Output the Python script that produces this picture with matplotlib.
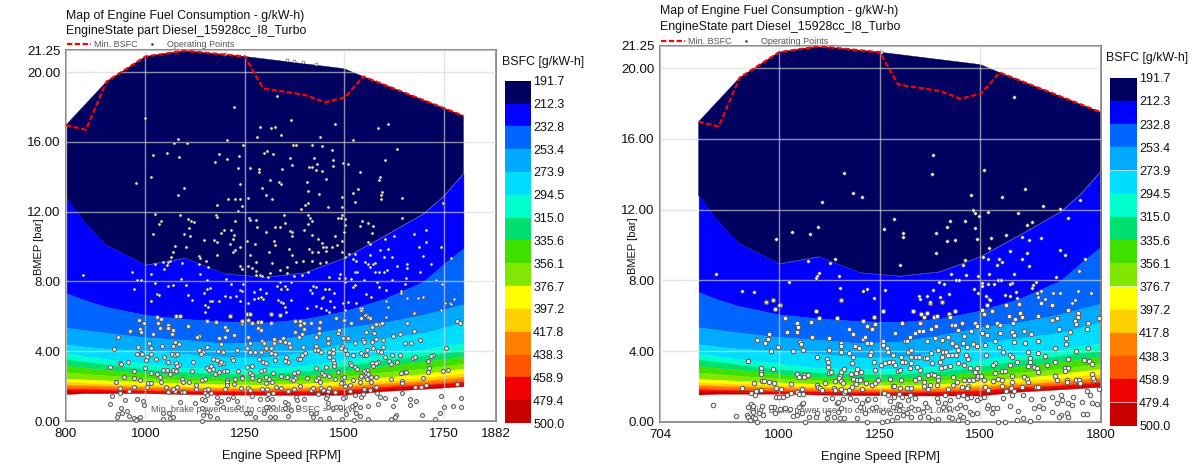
import numpy as np
import matplotlib
matplotlib.use('Agg')
import matplotlib.pyplot as plt

plt.rcParams['font.family'] = ['Liberation Sans', 'DejaVu Sans']

W, H = 1199, 466

# top edge of the map and the min BSFC line
env_rpm = [800, 902, 1000, 1099, 1250, 1500, 1548, 1800]
env_bmep = [16.97, 19.46, 20.9, 21.23, 20.9, 20.2, 19.75, 17.5]
min_rpm = [800, 850, 902, 1000, 1099, 1250, 1296, 1401, 1451, 1502, 1548, 1800]
min_bmep = [16.97, 16.7, 19.46, 20.9, 21.23, 20.9, 19.07, 18.7, 18.27, 18.56, 19.75, 17.5]

# lower edges of the colour bands, first one is the edge of the navy band
band_rpm = [800, 850, 900, 1000, 1100, 1200, 1300, 1400, 1500, 1600, 1700, 1750, 1800]
edge_212 = [12.8, 11.3, 10.1, 8.95, 9.35, 8.45, 8.25, 8.5, 9.35, 10.6, 11.9, 12.9, 14.2]
edge_233 = [7.34, 6.9, 6.55, 6.08, 5.85, 5.7, 5.65, 5.85, 6.3, 7.0, 8.0, 9.0, 9.9]
edge_253 = [5.35, 5.2, 5.05, 4.8, 4.65, 4.45, 4.55, 4.9, 5.35, 5.65, 6.1, 6.4, 6.7]
edge_274 = [4.4, 4.25, 4.15, 4.03, 3.85, 3.65, 3.65, 3.95, 4.45, 4.75, 5.05, 5.35, 5.65]
edge_295 = [3.9, 3.7, 3.55, 3.3, 3.05, 3.0, 3.0, 3.15, 3.5, 3.8, 4.1, 4.3, 4.45]
edge_315 = [3.54, 3.4, 3.25, 2.97, 2.8, 2.7, 2.72, 2.85, 3.15, 3.5, 3.75, 3.9, 4.05]
edge_336 = [3.18, 3.05, 2.95, 2.7, 2.55, 2.45, 2.45, 2.58, 2.85, 3.15, 3.4, 3.55, 3.68]
edge_356 = [2.8, 2.7, 2.62, 2.46, 2.35, 2.28, 2.25, 2.36, 2.55, 2.8, 3.0, 3.15, 3.28]
edge_377 = [2.43, 2.38, 2.33, 2.24, 2.15, 2.1, 2.08, 2.15, 2.3, 2.5, 2.7, 2.87, 3.0]
edge_397 = [2.24, 2.2, 2.15, 2.07, 2.0, 1.96, 1.95, 2.0, 2.12, 2.3, 2.48, 2.6, 2.72]
edge_418 = [2.09, 2.05, 2.02, 1.96, 1.9, 1.87, 1.86, 1.9, 2.0, 2.15, 2.3, 2.42, 2.52]
edge_438 = [1.96, 1.93, 1.9, 1.84, 1.8, 1.78, 1.77, 1.8, 1.88, 2.05, 2.17, 2.27, 2.37]
edge_459 = [1.84, 1.82, 1.8, 1.75, 1.72, 1.7, 1.69, 1.71, 1.78, 1.95, 2.07, 2.16, 2.25]
edge_479 = [1.75, 1.73, 1.71, 1.65, 1.63, 1.62, 1.6, 1.62, 1.65, 1.85, 1.97, 2.05, 2.13]
edge_500 = [1.55, 1.6, 1.6, 1.6, 1.55, 1.52, 1.5, 1.5, 1.5, 1.72, 1.85, 1.92, 2.0]

band_colors = ['#000060', '#0000ff', '#0066ff', '#00aaff', '#00ddff', '#00ffcc', '#00e070', '#40e000',
               '#80e800', '#ffff00', '#ffd000', '#ff8000', '#ff5500', '#f00000', '#c80000']
bar_labels = ['191.7', '212.3', '232.8', '253.4', '273.9', '294.5', '315.0', '335.6',
              '356.1', '376.7', '397.2', '417.8', '438.3', '458.9', '479.4', '500.0']

# operating points, (rpm, bmep). high = small dots, low = bigger circles
left_high = [(976,13.67),(1015,14.0),(1020,15.27),(1055,15.39),(1082,16.17),(1072,15.92),(1105,15.92),(1084,15.16),(1206,16.1),(1281,16.27),
(1342,16.4),(1439,16.27),(1522,16.14),(1184,15.29),(1175,14.87),(1206,15.0),(1236,15.2),(1234,14.53),(1246,15.83),(1299,15.35),(1306,15.47),
(1321,15.29),(1371,15.85),(1380,15.81),(1418,15.85),(1443,15.77),(1470,15.54),(1633,15.58),(1363,15.06),(1369,14.68),(1423,15.08),(1431,14.74),
(1411,14.57),(1418,14.57),(1430,14.4),(1443,14.36),(1472,14.95),(1472,14.6),(1496,14.8),(1510,14.76),(1603,14.95),(1541,14.3),(1264,14.53),
(1285,14.43),(1285,14.26),(1344,14.45),(1313,13.82),(1335,13.69),(1342,13.61),(1407,13.71),(1454,13.9),(1589,14.01),(1588,13.82),(1237,13.61),
(1292,13.34),(1097,13.34),(1082,12.96),(1304,12.96),(1318,12.71),(1208,12.71),(1225,12.71),(1237,12.73),(1257,12.79),(1408,13.21),(1436,13.0),
(1495,12.83),(1521,13.06),(1536,13.3),(1526,12.56),(1596,13.15),(1593,12.94),(1593,12.73),(1645,12.77),(1179,12.37),(1244,12.31),(1234,12.02),
(1409,12.48),(1401,12.39),(1392,12.16),(1460,12.25),(1495,12.29),(1024,11.87),(1087,11.83),(1038,11.47),(1035,11.28),(1018,10.74),(1106,11.57),
(1114,11.45),(1123,11.41),(1110,11.09),(1097,10.7),(1112,10.63),(1177,11.83),(1181,11.68),(1225,11.49),(1198,10.95),(1191,10.8),(1215,10.95),
(1222,10.67),(1221,10.44),(1147,10.38),(1172,10.38),(1181,10.28),(1212,10.15),(1237,10.0),(1225,9.8),(1221,9.67),(1260,11.62),(1264,11.53),
(1279,11.53),(1281,11.14),(1302,10.86),(1326,11.14),(1338,11.11),(1349,11.83),(1352,11.37),(1363,10.9),(1369,10.86),(1368,10.63),(1399,10.97),
(1409,11.8),(1413,11.64),(1418,11.47),(1409,11.3),(1418,10.67),(1435,10.44),(1445,10.23),(1453,10.0),(1454,9.77),(1477,10.59),(1485,11.62),
(1493,11.64),(1495,11.81),(1501,11.6),(1503,11.26),(1499,10.82),(1495,10.3),(1539,11.2),(1546,11.47),(1559,11.37),(1573,11.18),(1569,10.76),
(1560,10.25),(1566,10.15),(1646,11.64),(1602,10.44),(1625,10.63),(1676,10.74),(1706,10.93),(1706,10.25),(1689,10.0),(1744,9.96),(1749,12.48),
(1074,10.06),(1103,10.0),(1068,9.71),(1065,9.42),(1061,9.2),(1135,9.46),(1137,9.37),(1152,9.2),(1135,9.0),(1158,8.85),(1180,9.5),(1256,10.34),
(1275,10.15),(1263,9.52),(1324,10.3),(1326,10.09),(1310,9.67),(1361,9.84),(1369,9.5),(1412,9.86),(1420,9.71),(1435,9.67),(1447,10.0),(1470,10.0),
(1482,10.07),(1495,9.71),(1501,9.42),(1279,9.1),(1319,9.04),(1378,9.1),(1397,9.2),(1418,9.16),(1439,9.04),(1455,9.1),(1237,8.89),(1244,8.7),
(1258,8.91),(1267,8.76),(1279,8.6),(1278,8.37),(1288,8.35),(1293,8.33),(1309,8.28),(1313,8.47),(1338,8.66),(1355,8.83),(1355,8.47),(1374,8.33),
(1395,8.39),(1409,8.56),(1024,8.98),(1043,9.1),(1057,9.14),(1055,8.93),(1046,8.72),(1091,9.06),(844,8.37),(965,8.53),(978,8.1),(989,8.08),
(1013,8.41),(1024,7.93),(971,7.57),(1089,8.14),(1137,8.43),(1156,8.09),(1202,8.12),(1103,7.8),(1057,7.76),(1070,7.78),(1214,7.86),(1246,7.86),
(1030,7.26),(1035,7.22),(1013,6.88),(1108,7.22),(1118,6.92),(1162,7.61),(1154,7.55),(1148,7.36),(1162,6.88),(1168,6.88),(1185,6.9),(1151,6.65),
(1158,6.56),(1151,6.27),(1200,7.19),(1212,7.09),(1227,7.19),(1237,7.51),(1243,7.45),(1237,6.88),(1273,7.4),(1288,7.55),(1302,7.32),(1290,7.13),
(1273,6.98),(1284,7.03),(1258,6.75),(1296,6.98),(1330,7.76),(1338,7.99),(1351,7.72),(1341,7.55),(1355,7.55),(1367,7.99),(1334,6.94),(1342,6.84),
(1347,6.75),(1351,6.56),(1353,6.27),(1367,6.94),(1422,7.76),(1430,7.7),(1413,7.51),(1418,7.32),(1451,7.55),(1462,7.59),(1447,7.13),(1443,7.03),
(1474,7.32),(1430,6.61),(1441,6.5),(1407,6.46),(1464,6.9),(1461,6.27),(1474,6.56),(1455,6.37),(1501,8.18),(1501,7.99),(1489,8.43),(1487,8.18),
(1462,8.28),(1511,9.58),(1526,9.58),(1522,9.27),(1529,9.2),(1526,8.56),(1532,8.56),(1518,8.12),(1526,7.8),(1522,7.7),(1553,9.1),(1564,9.5),
(1573,8.98),(1560,8.98),(1564,8.85),(1577,9.08),(1577,8.53),(1588,8.54),(1600,8.53),(1608,8.66),(1601,9.42),(1620,9.42),(1589,9.8),(1609,9.88),
(1634,8.91),(1657,8.98),(1657,8.77),(1698,9.46),(1718,9.0),(1692,8.56),(1620,8.1),(1655,8.18),(1654,7.88),(1583,7.99),(1587,7.7),(1606,7.51),
(1550,8.09),(1528,7.8),(1554,7.28),(1567,7.09),(1642,7.47),(1642,7.36),(1657,7.07),(1686,7.07),(1698,7.11),(1730,8.1),(1746,7.86),(1768,9.37),
(1753,6.79),(1766,6.79),(1770,6.71),(1776,6.99),(1744,6.37),(1676,6.21),(1606,6.88),(1609,6.56),(1604,5.94),(1539,6.46),(1546,6.46),(1552,6.08),
(1560,5.98),(1497,6.75),(1510,6.8),(1503,6.37),(1529,6.75),(1201,21.04),(1355,20.68),(1373,20.64),(1397,20.6),(1430,20.47),(1331,18.66),(1222,18.0),
(1000,17.4),(1288,16.88),(1317,16.8),(1325,16.87),(1365,17.26),(1476,17.03),(1584,16.8),(1609,17.03)]
left_low = [(930,4.84),(961,5.18),(986,5.26),(989,5.09),(984,5.79),(997,5.64),(1018,4.97),(1028,5.95),(1039,5.85),(1032,5.6),(1036,5.35),(1057,5.5),
(1057,5.35),(1070,5.2),(1066,4.97),(1077,6.02),(1087,6.02),(1107,5.47),(1134,4.9),(1130,4.8),(1154,5.75),(1177,5.66),(1185,4.74),(1199,4.8),
(1200,5.41),(1206,5.22),(1223,4.93),(1212,6.02),(1242,5.6),(1244,5.75),(1256,6.14),(1264,6.14),(1258,5.79),(1267,5.6),(1258,4.84),(1263,4.49),
(1284,5.7),(1291,5.7),(1284,5.35),(1290,5.22),(1294,4.61),(1298,4.45),(921,4.13),(981,4.26),(979,3.84),(988,3.88),(992,3.82),(1009,4.49),(1015,4.17),
(1013,3.84),(1042,4.3),(1074,4.51),(1070,4.3),(1085,4.42),(1135,4.07),(1145,3.94),(1139,3.84),(1156,4.26),(1183,4.01),(1189,4.42),(1196,3.98),
(1230,4.07),(1256,4.17),(1264,3.94),(1275,3.98),(1290,3.98),(1304,4.13),(911,3.08),(936,3.35),(938,3.27),(955,3.38),(971,2.87),(999,3.02),(1005,3.65),
(1001,3.5),(1026,3.57),(1046,3.69),(1015,2.77),(1028,2.7),(1043,2.92),(1055,2.92),(1057,3.4),(1066,3.84),(1074,3.78),(1080,3.82),(1078,3.31),
(1085,3.21),(1080,3.15),(1070,2.92),(1077,2.89),(1061,2.7),(1116,2.89),(1120,3.36),(1154,3.06),(1166,3.15),(1169,2.96),(1160,2.92),(1169,3.56),
(1180,3.5),(1187,3.27),(1196,3.35),(1191,3.4),(1218,3.59),(1221,3.5),(1175,2.7),(1185,2.83),(1197,2.89),(1204,2.87),(1232,2.89),(1256,3.08),
(1267,3.15),(1264,2.77),(1267,2.64),(1285,3.54),(1296,3.4),(1298,2.92),(1290,2.89),(1304,3.31),(926,2.26),(947,2.54),(970,2.45),(986,2.35),
(937,1.87),(959,1.74),(971,1.97),(1007,2.16),(1014,2.16),(1003,1.93),(1036,2.5),(1039,2.26),(1051,1.97),(1057,1.68),(1074,1.74),(1080,1.97),
(1070,1.83),(1091,2.39),(1095,2.26),(1109,2.26),(1092,1.64),(1097,1.66),(1127,2.08),(1127,1.83),(1141,2.35),(1151,2.41),(1151,1.78),(1158,1.81),
(1166,1.62),(1149,1.62),(1200,1.81),(1204,2.35),(1206,2.22),(1206,2.06),(1225,2.41),(1222,2.1),(1243,2.54),(1242,2.45),(1240,1.91),(1258,1.87),
(1264,1.78),(1292,1.81),(1269,2.45),(1286,2.35),(1306,1.81),(1311,2.39),(917,1.43),(936,1.59),(948,1.2),(911,0.99),(938,0.76),(953,0.57),(940,0.44),
(932,0.38),(929,0.21),(958,0.3),(972,0.17),(978,0.11),(986,0.21),(976,0.06),(979,1.28),(994,1.15),(996,0.92),(1045,0.44),(1045,0.11),(1060,0.44),
(1061,0.19),(1070,0.21),(1087,1.11),(1124,1.01),(1141,1.26),(1154,1.49),(1151,1.2),(1141,0.76),(1145,0.34),(1154,0.5),(1162,0.29),(1141,0.02),
(1179,0.15),(1180,1.39),(1179,1.05),(1190,1.17),(1196,0.78),(1208,1.26),(1221,1.39),(1231,1.17),(1233,0.78),(1254,0.48),(1269,1.43),(1275,0.25),
(1263,0.44),(1289,1.24),(1298,0.44),(1309,0.82),(1304,4.17),(1315,4.17),(1317,3.88),(1327,3.84),(1325,3.5),(1359,3.4),(1350,3.44),(1354,3.69),
(1323,4.68),(1323,4.45),(1338,4.61),(1346,4.74),(1350,4.55),(1360,4.45),(1363,4.26),(1315,6.14),(1315,5.64),(1338,6.08),(1377,5.75),(1388,5.74),
(1388,5.5),(1400,5.6),(1377,5.09),(1394,4.97),(1398,5.26),(1386,4.84),(1417,5.64),(1438,5.66),(1436,5.31),(1437,5.07),(1430,4.8),(1384,3.54),
(1388,3.54),(1402,3.88),(1396,4.26),(1394,3.78),(1426,4.07),(1434,4.07),(1430,4.3),(1442,3.98),(1459,4.74),(1459,4.45),(1461,3.98),(1472,4.11),
(1472,3.88),(1484,5.03),(1497,4.74),(1494,4.3),(1501,4.07),(1508,3.82),(1493,4.17),(1480,5.89),(1499,5.79),(1486,5.22),(1510,4.78),(1463,3.65),
(1472,3.5),(1474,3.31),(1474,3.15),(1514,3.35),(1518,3.21),(1526,3.12),(1533,2.96),(1522,3.78),(1543,3.88),(1551,3.78),(1556,3.78),(1526,4.45),
(1547,4.65),(1551,4.55),(1570,4.55),(1556,5.12),(1570,5.37),(1581,5.56),(1589,5.56),(1595,5.6),(1543,5.89),(1556,6.08),(1560,5.98),(1566,5.89),
(1543,6.37),(1518,5.6),(1575,5.03),(1581,4.68),(1597,4.65),(1597,4.26),(1585,4.01),(1593,3.98),(1558,4.07),(1572,4.17),(1623,4.87),(1641,4.99),
(1652,4.45),(1669,4.45),(1690,4.65),(1675,5.18),(1659,5.64),(1675,6.18),(1621,3.78),(1641,3.78),(1603,3.69),(1614,3.46),(1634,3.4),(1618,3.25),
(1585,3.4),(1581,3.31),(1570,3.31),(1572,3.15),(1557,2.92),(1551,2.89),(1556,2.73),(1673,3.59),(1677,3.69),(1712,3.44),(1723,3.78),(1719,3.73),
(1711,2.83),(1713,3.06),(1755,4.17),(1748,2.89),(1762,2.91),(1784,5.75),(1792,5.6),(1642,2.73),(1652,2.79),(1656,2.83),(1645,2.29),(1645,2.16),
(1618,2.39),(1698,2.48),(1706,2.08),(1694,1.97),(1679,1.97),(1784,2.1),(1321,2.77),(1342,2.58),(1356,2.5),(1374,2.73),(1377,2.45),(1384,2.79),
(1367,2.39),(1371,2.35),(1407,2.45),(1430,3.02),(1434,2.45),(1444,2.73),(1449,2.64),(1430,2.35),(1438,2.26),(1455,3.12),(1463,2.58),(1476,2.39),
(1484,2.83),(1494,2.49),(1499,2.5),(1497,2.2),(1491,2.16),(1501,2.01),(1514,2.06),(1522,2.35),(1539,2.45),(1543,2.58),(1539,2.26),(1556,2.5),
(1560,2.7),(1568,2.5),(1581,2.54),(1568,2.22),(1558,2.39),(1304,2.54),(1304,2.16),(1318,2.26),(1329,1.93),(1342,1.87),(1359,1.74),(1374,1.83),
(1390,2.01),(1417,1.78),(1421,1.87),(1441,1.87),(1447,1.78),(1459,1.74),(1476,1.68),(1463,1.87),(1514,1.74),(1551,1.81),(1566,1.78),(1581,1.93),
(1308,1.53),(1321,1.59),(1307,1.24),(1318,1.24),(1304,0.82),(1321,0.78),(1350,1.07),(1359,0.97),(1352,0.73),(1313,0.25),(1327,0.21),(1359,0.29),
(1380,1.36),(1382,1.2),(1400,1.26),(1384,0.82),(1367,0.63),(1417,0.44),(1430,0.48),(1421,0.21),(1438,0.1),(1463,0.19),(1434,1.55),(1457,1.45),
(1455,1.3),(1459,1.01),(1459,0.82),(1472,0.73),(1480,0.78),(1489,0.82),(1501,1.39),(1497,1.3),(1494,0.09),(1505,0.38),(1526,1.49),(1543,1.36),
(1547,1.55),(1526,0.97),(1520,0.86),(1539,0.82),(1530,0.44),(1539,0.29),(1525,0.06),(1561,0.86),(1561,0.09),(1585,0.97),(1583,1.59),(1589,1.39),
(1602,1.32),(1627,1.24),(1623,0.86),(1631,0.34),(1629,0.21),(1617,0.09),(1665,1.24),(1665,0.92),(1680,1.15),(1696,0.34),(1744,1.43),(1750,0.82),
(1773,0.88),(1794,0.82),(1793,1.34),(1740,0.44),(1729,0.09),(1646,1.59)]

right_high = [(1382,15.1),(1379,14.0),(1508,14.22),(1162,14.05),(1183,12.95),(1207,12.73),(1107,12.41),(1478,12.84),(1555,12.69),(1612,13.14),
(1657,12.22),(1748,12.54),(1698,12.01),(1483,11.96),(1487,11.79),(1496,11.66),(1518,11.86),(1593,11.79),(1717,11.52),(1285,11.45),(1261,10.88),
(1309,10.66),(1308,10.43),(1425,11.35),(1461,11.35),(1418,11.03),(1391,10.66),(1418,10.22),(1437,10.26),(1488,10.94),(1491,10.34),(1526,10.41),
(1617,11.13),(1628,11.28),(1564,10.58),(1603,10.43),(1620,10.26),(1651,10.39),(1031,10.73),(1077,10.62),(1096,11.01),(992,10.34),(1391,9.56),
(1522,9.83),(1574,9.68),(1617,9.56),(1698,9.72),(1711,9.41),(1759,9.24),(1073,9.09),(1127,9.0),(1138,9.21),(1301,8.85),(1462,9.17),(1458,8.87),
(1507,9.32),(1518,9.24),(1547,9.21),(1555,9.06),(1542,8.87),(1604,9.21),(1620,8.81),(1100,8.43),(1094,8.26),(1092,8.15),(1150,8.23),(843,8.34),
(1427,8.38),(1465,8.3),(1494,8.23),(1521,8.38),(1584,8.34),(1689,8.19),(1746,8.51),(1025,7.93),(1151,7.57),(1218,7.53),(1208,7.38),(1263,7.46),
(1398,7.89),(1410,7.78),(1440,8.0),(1447,8.0),(1382,7.46),(1505,7.85),(1505,7.68),(1519,7.81),(1535,7.78),(1545,8.04),(1551,8.04),(1579,7.85),
(1575,7.78),(1485,7.49),(1495,7.27),(1513,7.14),(1522,6.93),(1524,6.89),(1589,7.34),(1561,7.17),(1574,7.14),(1592,7.02),(1639,7.89),(1630,7.72),
(1628,7.55),(1652,7.42),(1642,7.27),(1644,7.06),(1661,6.95),(1680,7.29),(1698,7.31),(1744,7.4),(1776,7.27),(1735,6.87),(1728,6.74),(909,7.38),
(937,7.32),(967,6.76),(986,6.91),(1000,6.63),(1155,6.91),(1236,7.02),(1348,7.14),(1350,6.95),(1367,7.14),(1401,7.04),(1421,7.23),(1375,6.8),
(1404,6.8),(1252,20.92),(1584,18.35)]
right_low = [(967,6.76),(986,6.89),(1002,6.61),(990,6.36),(1015,5.89),(1045,5.61),(1046,5.38),(1044,5.1),(1020,5.06),(1079,5.63),(1091,6.27),(1100,5.85),
(1145,5.85),(1155,6.89),(1209,5.72),(1218,5.44),(1236,5.91),(1238,5.53),(1231,5.23),(1259,6.29),(976,4.97),(972,4.69),(965,4.48),(944,4.63),(998,4.22),
(980,4.01),(1034,4.03),(1060,4.07),(1052,4.54),(1054,4.4),(1083,4.82),(1124,4.72),(1124,4.07),(1174,5.25),(1183,5.0),(1155,4.44),(1153,4.31),(1155,3.97),
(1209,4.69),(1213,4.78),(1218,4.44),(1228,4.44),(1188,4.31),(1198,4.16),(1257,4.59),(1257,4.35),(1267,4.16),(1289,5.01),(1271,3.93),(1284,3.78),
(1174,3.88),(1183,3.65),(1180,3.35),(1228,3.93),(1226,3.78),(1237,3.41),(922,3.44),(1093,3.65),(1118,3.54),(1122,3.41),(1122,3.12),(954,3.03),(954,2.84),
(954,2.71),(986,3.0),(1045,2.71),(1049,2.56),(1062,2.65),(1062,2.52),(1073,2.65),(1124,2.78),(1129,2.84),(1151,2.6),(1154,2.84),(1162,3.0),(1150,2.46),
(1155,2.31),(1158,2.18),(1179,2.71),(1190,2.78),(1193,2.97),(1203,2.84),(1238,2.93),(1253,3.22),(1263,3.35),(1273,3.41),(1284,3.41),(1296,2.88),
(1184,2.41),(1193,2.37),(1203,2.43),(1190,2.13),(1201,2.37),(1205,1.84),(1217,2.22),(1230,2.09),(1238,2.18),(1247,2.37),(1276,2.43),(1284,2.05),
(1285,2.03),(938,2.22),(957,2.31),(962,2.31),(975,2.28),(987,2.18),(1029,2.14),(909,1.9),(930,1.62),(942,1.77),(954,1.81),(940,1.52),(992,1.9),
(1004,1.86),(992,1.39),(1000,1.39),(1010,1.39),(1020,1.52),(1030,1.65),(1045,1.71),(1050,1.56),(1057,1.86),(1060,1.56),(1093,2.09),(1097,1.99),
(1102,1.9),(1106,1.81),(1114,2.18),(1137,1.9),(1140,2.31),(1139,1.81),(1155,1.84),(1161,1.62),(1174,1.81),(1180,1.96),(1164,1.75),(1261,1.65),
(1271,1.52),(836,0.98),(894,0.34),(919,0.39),(923,0.26),(928,0.11),(936,0.3),(940,0.2),(944,0.02),(930,1.01),(936,0.9),(923,0.83),(950,0.52),(936,0.58),
(957,0.9),(961,0.39),(987,0.83),(981,0.86),(990,0.52),(1002,0.71),(1015,0.77),(1035,0.34),(1044,0.39),(1056,0.49),(1075,0.3),(1092,0.3),(1095,0.49),
(1056,1.01),(1060,1.09),(1050,0.83),(1027,0.71),(1064,0.0),(1118,0.2),(1136,0.26),(1151,0.2),(1162,0.2),(1193,0.24),(1218,0.02),(1255,0.02),
(1267,0.05),(1280,0.11),(1114,1.28),(1131,1.37),(1122,0.49),(1143,1.05),(1147,1.15),(1160,1.3),(1155,0.77),(1147,0.58),(1176,1.33),(1190,1.24),
(1205,1.05),(1201,0.86),(1218,1.24),(1222,1.3),(1238,1.28),(1213,0.49),(1230,0.81),(1242,0.83),(1259,0.54),(1276,1.18),(1285,1.43),(1284,0.86),
(1276,0.49),(1296,1.01),(1299,0.67),(1375,6.74),(1404,6.8),(1334,6.27),(1353,6.1),(1368,6.17),(1361,5.91),(1386,5.95),(1393,6.0),(1421,6.1),(1437,6.27),
(1425,5.95),(1306,5.61),(1350,5.61),(1389,5.42),(1430,5.48),(1437,5.48),(1454,5.61),(1487,5.61),(1491,5.42),(1477,5.14),(1348,5.16),(1358,5.16),
(1338,5.01),(1325,4.78),(1313,4.59),(1319,4.59),(1377,5.23),(1419,4.78),(1368,4.59),(1387,4.72),(1406,4.63),(1460,4.87),(1445,5.2),(1458,4.48),
(1483,4.39),(1491,4.29),(1429,4.44),(1440,4.29),(1466,4.25),(1444,4.07),(1429,3.78),(1440,3.78),(1464,3.78),(1396,4.07),(1408,3.97),(1416,3.97),
(1420,3.78),(1404,3.69),(1377,3.88),(1321,3.97),(1329,4.07),(1328,3.65),(1303,3.69),(1313,3.41),(1305,3.37),(1339,3.65),(1348,3.65),(1363,3.6),
(1368,3.6),(1381,3.31),(1401,3.41),(1300,2.93),(1288,3.22),(1325,3.03),(1329,3.31),(1350,2.93),(1342,3.12),(1402,3.03),(1412,3.12),(1425,3.16),
(1445,3.35),(1469,3.54),(1460,3.22),(1474,3.03),(1491,3.07),(1487,2.84),(1512,4.35),(1513,3.78),(1537,4.59),(1549,5.05),(1546,4.22),(1557,3.97),
(1578,5.06),(1584,4.91),(1585,4.54),(1611,4.44),(1626,5.0),(1609,5.16),(1644,4.59),(1516,6.61),(1505,6.33),(1510,6.1),(1528,6.27),(1541,5.57),
(1549,5.48),(1516,5.42),(1505,5.01),(1516,4.91),(1565,6.61),(1596,6.66),(1571,6.0),(1599,6.14),(1603,5.95),(1643,6.0),(1586,5.8),(1582,5.61),
(1652,6.7),(1677,6.61),(1677,5.76),(1691,5.85),(1717,6.33),(1742,6.14),(1742,5.91),(1735,5.72),(1739,5.52),(1768,5.57),(1696,5.23),(1723,5.1),
(1764,5.23),(1795,5.85),(1713,4.72),(1712,4.39),(1686,4.16),(1739,4.03),(1768,4.2),(1574,3.78),(1578,3.69),(1590,3.41),(1574,3.22),(1555,2.9),
(1561,2.9),(1537,3.31),(1532,3.22),(1619,3.97),(1623,3.6),(1623,3.41),(1618,3.16),(1634,3.12),(1640,3.03),(1644,2.84),(1643,3.88),(1661,3.73),
(1665,3.22),(1686,3.41),(1710,3.03),(1719,3.03),(1710,2.9),(1719,3.54),(1758,3.5),(1771,3.44),(1777,3.27),(1777,2.71),(1783,2.37),(1781,2.46),
(1739,2.37),(1745,2.37),(1748,2.18),(1715,2.37),(1715,2.28),(1686,2.6),(1690,2.37),(1609,2.56),(1615,2.41),(1619,2.28),(1303,2.37),(1300,1.9),
(1317,1.9),(1329,1.94),(1338,2.37),(1348,2.46),(1361,2.28),(1361,2.03),(1371,2.65),(1379,2.71),(1386,2.65),(1396,2.52),(1396,2.37),(1375,2.09),
(1371,1.84),(1392,2.09),(1419,1.84),(1433,2.56),(1443,2.28),(1433,2.09),(1454,1.96),(1460,2.37),(1472,2.37),(1470,2.03),(1466,1.9),(1483,2.37),
(1491,2.46),(1495,2.6),(1502,2.6),(1510,2.37),(1512,1.96),(1520,1.8),(1532,2.33),(1545,2.41),(1555,2.37),(1537,2.78),(1553,2.03),(1564,1.77),
(1578,2.28),(1578,2.6),(1576,1.9),(1585,1.77),(1603,1.99),(1638,1.99),(1644,1.99),(1298,1.56),(1306,1.43),(1325,1.52),(1338,1.33),(1321,1.24),
(1300,0.96),(1329,0.86),(1344,0.73),(1317,0.52),(1329,0.3),(1309,0.39),(1292,0.3),(1350,0.3),(1363,1.05),(1367,0.83),(1358,0.58),(1371,0.3),
(1392,1.33),(1396,1.15),(1412,1.52),(1412,1.05),(1408,0.86),(1425,1.24),(1421,0.77),(1421,0.3),(1396,0.15),(1379,0.11),(1429,0.2),(1445,1.47),
(1458,1.52),(1466,1.33),(1478,1.43),(1441,0.77),(1450,0.96),(1462,0.86),(1474,0.58),(1450,0.39),(1458,0.3),(1480,0.45),(1491,0.49),(1445,0.11),
(1466,0.02),(1499,1.33),(1510,1.39),(1491,1.24),(1516,0.77),(1520,0.96),(1532,0.77),(1528,0.49),(1541,0.77),(1557,1.33),(1578,1.52),(1574,0.9),
(1593,0.64),(1607,1.52),(1626,1.3),(1634,0.77),(1646,0.9),(1644,0.26),(1607,0.2),(1590,0.11),(1545,0.02),(1561,0.02),(1623,0.07),(1657,1.3),
(1677,1.39),(1657,0.77),(1677,0.58),(1690,1.05),(1700,1.52),(1702,1.24),(1700,0.39),(1696,0.26),(1715,0.52),(1719,0.3),(1719,1.05),(1731,1.43),
(1727,0.96),(1752,1.15),(1764,1.77),(1777,1.05),(1789,1.01),(1773,1.52),(1795,1.84),(1756,0.45),(1764,0.45)]

edges = [edge_212, edge_233, edge_253, edge_274, edge_295, edge_315, edge_336, edge_356,
         edge_377, edge_397, edge_418, edge_438, edge_459, edge_479, edge_500]


def px_axes(fig, left, right, top, bottom):
    return fig.add_axes([left / W, 1 - bottom / H, (right - left) / W, (bottom - top) / H])


def panel(fig, box, xlim, xticks, high, low, title_xy, note_x, legend_y, s_high, s_low):
    ax = px_axes(fig, *box)
    ax.set_xlim(*xlim)
    ax.set_ylim(0, 21.25)

    # navy band goes up to the envelope, the others are between two edges
    ax.fill(env_rpm + band_rpm[::-1], env_bmep + edge_212[::-1], color=band_colors[0], lw=0.3, zorder=1)
    for i in range(1, 15):
        ax.fill_between(band_rpm, edges[i], edges[i - 1], color=band_colors[i], lw=0.3, zorder=1)

    ax.set_xticks(xticks)
    ax.set_yticks([0, 4, 8, 12, 16, 20, 21.25])
    ax.set_yticklabels(['0.00', '4.00', '8.00', '12.00', '16.00', '20.00', '21.25'])
    ax.grid(True, color='#d8d8d8', alpha=0.65, lw=1, zorder=2)
    ax.set_axisbelow(False)
    ax.tick_params(length=0, labelsize=9.6, pad=4, colors='#111111')
    ax.tick_params(axis='x', pad=5)
    for s in ax.spines.values():
        s.set_color('#777777')
        s.set_linewidth(1.2)
    ax.set_xlabel('Engine Speed [RPM]', fontsize=9.2, labelpad=7, color='#111111')
    ax.set_ylabel('BMEP [bar]', fontsize=8, color='#111111')
    # label sits in the gap between the 8.00 and 12.00 tick labels
    ax.yaxis.set_label_coords(-22 / (box[1] - box[0]), 0.47)

    ax.text(note_x, 0.65, 'Min. brake power used to calculate BSFC = 1.0kW', fontsize=6.6, color='#555555', zorder=3, va='center')

    h = np.array(high).T
    l = np.array(low).T
    ax.scatter(l[0], l[1], s=s_low, c='white', edgecolors='#606060', linewidths=0.8, zorder=4, clip_on=False)
    ax.scatter(h[0], h[1], s=s_high, c='white', edgecolors='#444444', linewidths=0.4, zorder=4, clip_on=False)
    line, = ax.plot(min_rpm, min_bmep, color='red', lw=1.6, ls=(0, (2.4, 1.1)), zorder=5, label='Min. BSFC')
    dot, = ax.plot([], [], ls='none', marker='o', ms=2, mfc='#555555', mec='#555555', mew=0, label='Operating Points')
    leg = ax.legend(handles=[line, dot], loc='lower left', bbox_to_anchor=((box[0] + 1) / W, 1 - legend_y / H),
                    bbox_transform=fig.transFigure, ncol=2, frameon=False, fontsize=6.5, handlelength=2.65,
                    handletextpad=0.33, columnspacing=0.33, borderpad=0, borderaxespad=0)
    for t in leg.get_texts():
        t.set_color('#555555')

    tx, ty1, ty2 = title_xy
    fig.text(tx / W, 1 - ty1 / H, 'Map of Engine Fuel Consumption - g/kW-h)', fontsize=8.9, va='center', color='#111111')
    fig.text(tx / W, 1 - ty2 / H, 'EngineState part Diesel_15928cc_I8_Turbo', fontsize=8.9, va='center', color='#111111')
    return ax


def colour_bar(fig, box, title_x, title_y):
    cb = px_axes(fig, *box)
    cb.barh(np.arange(15) + 0.5, np.ones(15), height=1, color=band_colors, edgecolor=band_colors, lw=0.3)
    cb.set_xlim(0, 1)
    cb.set_ylim(15, 0)
    cb.set_xticks([])
    cb.yaxis.tick_right()
    cb.set_yticks(range(16))
    cb.set_yticklabels(bar_labels)
    cb.tick_params(length=0, labelsize=9, pad=1.5, colors='#111111')
    for s in cb.spines.values():
        s.set_visible(False)
    fig.text(title_x / W, 1 - title_y / H, 'BSFC [g/kW-h]', fontsize=8.9, va='center', color='#111111')


fig = plt.figure(figsize=(W / 100, H / 100), dpi=100)

panel(fig, (66, 496, 50.4, 421), (800, 1882), [800, 1000, 1250, 1500, 1750, 1882],
      left_high, left_low, (65.5, 16, 31), 1015, 49, 4.5, 8)
panel(fig, (660, 1101, 46, 422), (704, 1800), [704, 1000, 1250, 1500, 1800],
      right_high, right_low, (660, 11, 27), 924, 46, 6, 10)
colour_bar(fig, (505, 531, 80.7, 423), 501.5, 62)
colour_bar(fig, (1110, 1137, 77.7, 425.7), 1106.5, 58.5)

fig.savefig('out.png', dpi=100)
